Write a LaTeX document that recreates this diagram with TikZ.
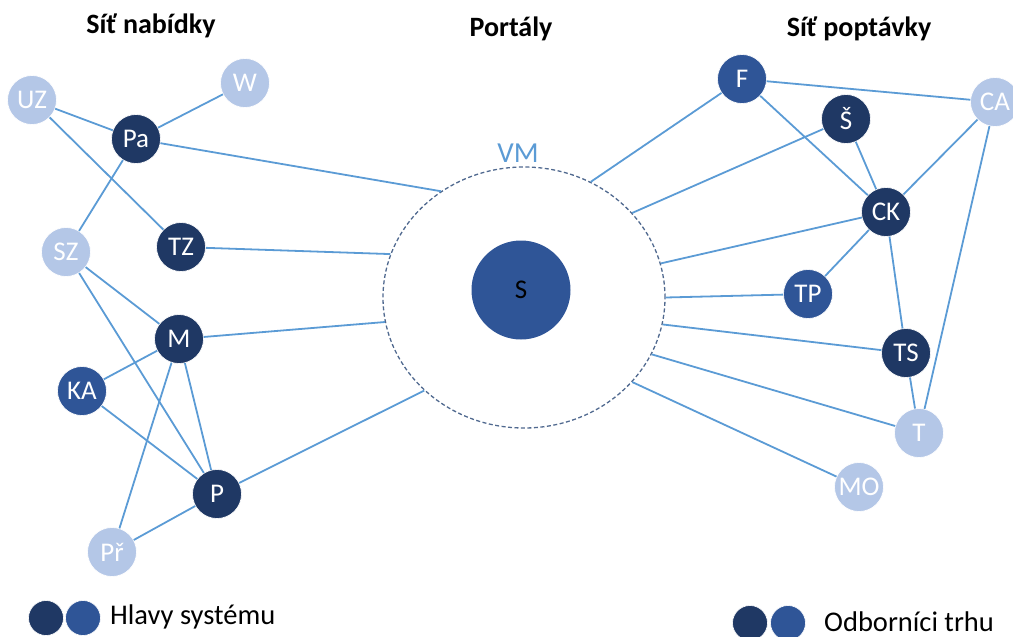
\documentclass[tikz,border=0pt]{standalone}
\usepackage{fontspec}
\setmainfont{Carlito}
\usetikzlibrary{shapes.geometric}

\definecolor{navy}{HTML}{1F3864}
\definecolor{midblue}{HTML}{2F5597}
\definecolor{paleblue}{HTML}{B4C7E7}
\definecolor{linkblue}{HTML}{5B9BD5}
\definecolor{ringgray}{HTML}{50698F}

\begin{document}
\begin{tikzpicture}[x=1pt,y=-1pt,
  actor/.style={circle, minimum size=49pt, inner sep=0pt, draw=white, line width=0.6pt,
                text=white, font=\fontsize{27}{30}\selectfont},
  dark/.style={actor, fill=navy},
  mid/.style={actor, fill=midblue},
  pale/.style={actor, fill=paleblue},
  link/.style={draw=linkblue, line width=1.8pt},
  title/.style={font=\bfseries\fontsize{28}{31}\selectfont, anchor=base},
  legenddot/.style={circle, minimum size=35pt, inner sep=0pt, draw=white, line width=0.6pt},
  legendtext/.style={font=\fontsize{28.5}{32}\selectfont, anchor=west, inner sep=0pt, text=black}
]
\useasboundingbox (0,0) rectangle (1013,637);

% headings
\node[title] (hSupply) at (151,33) {Síť nabídky};
\node[title] (hPortal) at (511,36) {Portály};
\node[title] (hDemand) at (859,36) {Síť poptávky};

% portal ring and search engine in its centre
\node[ellipse, draw=ringgray, dashed, dash pattern=on 4pt off 2.5pt, line width=1.3pt,
      minimum width=282pt, minimum height=261pt, inner sep=0pt] (vm) at (524,297.5) {};
\node[text=linkblue, font=\fontsize{29}{32}\selectfont] (vmlabel) at (518,153) {VM};
\node[circle, fill=midblue, minimum size=99pt, inner sep=0pt, text=black,
      font=\fontsize{27}{30}\selectfont] (s) at (521,290) {S};

% supply network
\node[pale] (uz) at (32,100) {UZ};
\node[pale] (w)  at (245,83) {W};
\node[dark] (pa) at (136,139) {Pa};
\node[pale] (sz) at (66,252) {SZ};
\node[dark] (tz) at (181,247) {TZ};
\node[dark] (m)  at (179,339) {M};
\node[mid]  (ka) at (82,391) {KA};
\node[dark] (p)  at (217,494) {P};
\node[pale] (pr) at (112,552) {Př};

% demand network
\node[mid]  (f)  at (742,79) {F};
\node[dark] (ss) at (846,119) {Š};
\node[pale] (ca) at (995,102) {CA};
\node[dark] (ck) at (886,212) {CK};
\node[mid]  (tp) at (808,294) {TP};
\node[dark] (ts) at (906,353) {TS};
\node[pale] (t)  at (919,433) {T};
\node[pale] (mo) at (859,487) {MO};

% links inside the supply network
\draw[link] (uz) -- (pa);
\draw[link] (uz) -- (tz);
\draw[link] (w) -- (pa);
\draw[link] (pa) -- (sz);
\draw[link] (sz) -- (m);
\draw[link] (sz) -- (p);
\draw[link] (m) -- (ka);
\draw[link] (m) -- (p);
\draw[link] (m) -- (pr);
\draw[link] (ka) -- (p);
\draw[link] (p) -- (pr);

% supply side to the portals
\draw[link] (pa) -- (vm.128.2);
\draw[link] (tz) -- (vm.162.4);
\draw[link] (m) -- (vm.190.8);
\draw[link] (p) -- (vm.223.3);

% links inside the demand network
\draw[link] (f) -- (ca);
\draw[link] (f) -- (ck);
\draw[link] (ss) -- (ck);
\draw[link] (ck) -- (ca);
\draw[link] (ck) -- (tp);
\draw[link] (ck) -- (ts);
\draw[link] (ts) -- (t);
\draw[link] (ca) -- (t);

% demand side to the portals
\draw[link] (vm.60.2) -- (f);
\draw[link] (vm.38) -- (ss);
\draw[link] (vm.14.8) -- (ck);
\draw[link] (vm.0) -- (tp);
\draw[link] (vm.-11.7) -- (ts);
\draw[link] (vm.-24.1) -- (t);
\draw[link] (vm.-38.1) -- (mo);

% legend
\node[legenddot, fill=navy]    (lgA) at (46,618) {};
\node[legenddot, fill=midblue] (lgB) at (83,618) {};
\node[legendtext] (lgText1) at (110,617) {Hlavy systému};
\node[legenddot, fill=navy]    (lgC) at (750,623) {};
\node[legenddot, fill=midblue] (lgD) at (788,623) {};
\node[legendtext] (lgText2) at (824,622) {Odborníci trhu};
\end{tikzpicture}
\end{document}
